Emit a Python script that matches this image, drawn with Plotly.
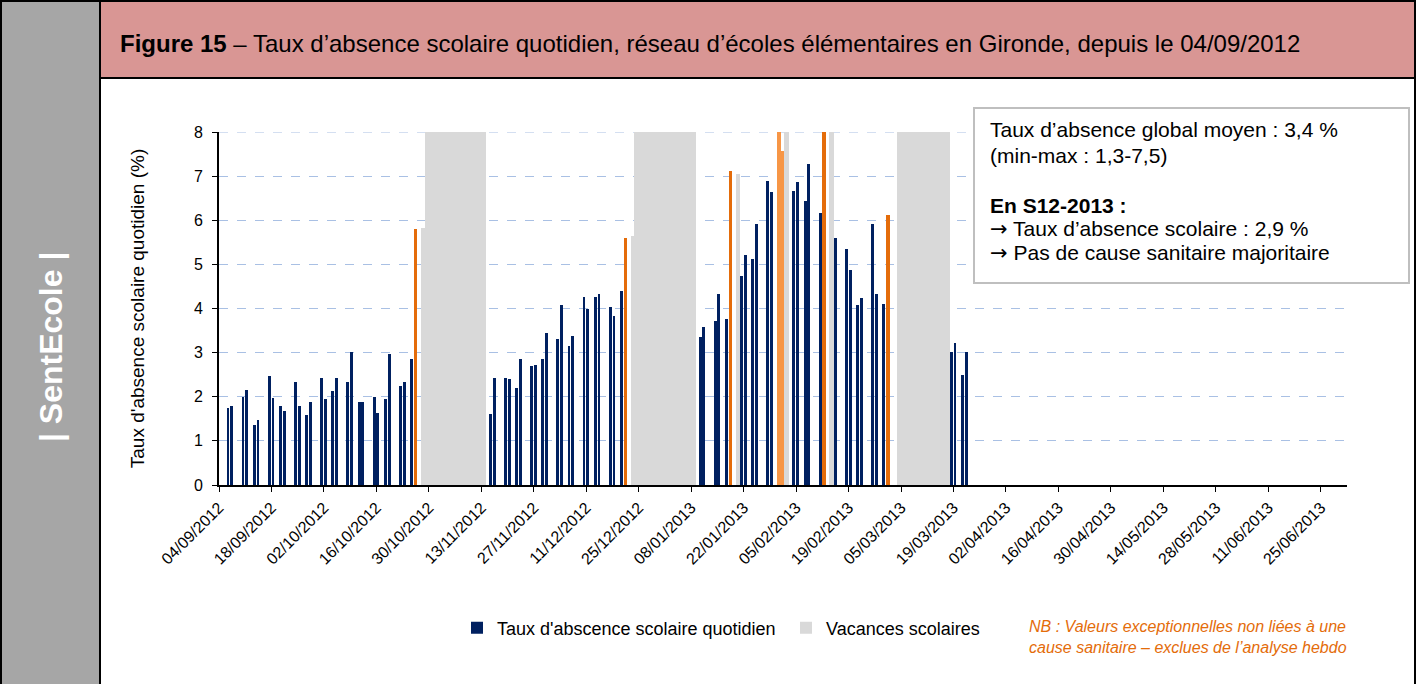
import plotly.graph_objects as go
import pandas as pd

# ---------------- data ----------------
school_dates = [
    "2012-09-06", "2012-09-07", "2012-09-10", "2012-09-11", "2012-09-13", "2012-09-14",
    "2012-09-17", "2012-09-18", "2012-09-20", "2012-09-21", "2012-09-24", "2012-09-25",
    "2012-09-27", "2012-09-28", "2012-10-01", "2012-10-02", "2012-10-04", "2012-10-05",
    "2012-10-08", "2012-10-09", "2012-10-11", "2012-10-12", "2012-10-15", "2012-10-16",
    "2012-10-18", "2012-10-19", "2012-10-22", "2012-10-23", "2012-10-25", "2012-10-26",
    "2012-11-15", "2012-11-16", "2012-11-19", "2012-11-20", "2012-11-22", "2012-11-23",
    "2012-11-26", "2012-11-27", "2012-11-29", "2012-11-30", "2012-12-03", "2012-12-04",
    "2012-12-06", "2012-12-07", "2012-12-10", "2012-12-11", "2012-12-13", "2012-12-14",
    "2012-12-17", "2012-12-18", "2012-12-20", "2012-12-21",
    "2013-01-10", "2013-01-11", "2013-01-14", "2013-01-15", "2013-01-17", "2013-01-18",
    "2013-01-21", "2013-01-22", "2013-01-24", "2013-01-25", "2013-01-28", "2013-01-29",
    "2013-01-31", "2013-02-01", "2013-02-04", "2013-02-05", "2013-02-07", "2013-02-08",
    "2013-02-11", "2013-02-12", "2013-02-15", "2013-02-18", "2013-02-19", "2013-02-21",
    "2013-02-22", "2013-02-25", "2013-02-26", "2013-02-28", "2013-03-01",
    "2013-03-18", "2013-03-19", "2013-03-21", "2013-03-22",
]
absence_rate = [
    1.74, 1.78, 2.00, 2.16, 1.35, 1.47,
    2.46, 1.97, 1.78, 1.67, 2.33, 1.78,
    1.58, 1.88, 2.43, 1.94, 2.14, 2.43,
    2.33, 3.02, 1.88, 1.88, 2.00, 1.64,
    1.94, 2.96, 2.24, 2.33, 2.85, 5.80,
    1.61, 2.43, 2.43, 2.40, 2.20, 2.86,
    2.69, 2.72, 2.86, 3.45, 3.31, 4.07,
    3.15, 3.37, 4.26, 3.98, 4.26, 4.33,
    4.03, 3.84, 4.39, 5.60,
    3.35, 3.58, 3.71, 4.33, 3.77, 7.12,
    4.73, 5.22, 5.12, 5.91, 6.89, 6.63,
    8.30, 7.58, 6.66, 6.86, 6.43, 7.28,
    6.17, 8.30, 5.60, 5.35, 4.88, 4.07,
    4.23, 5.91, 4.33, 4.11, 6.13,
    3.02, 3.22, 2.50, 3.02,
]
# n = normal, x = exceptional value (orange), l = exceptional value (light orange)
value_kind = [
    "n", "n", "n", "n", "n", "n",
    "n", "n", "n", "n", "n", "n",
    "n", "n", "n", "n", "n", "n",
    "n", "n", "n", "n", "n", "n",
    "n", "n", "n", "n", "n", "x",
    "n", "n", "n", "n", "n", "n",
    "n", "n", "n", "n", "n", "n",
    "n", "n", "n", "n", "n", "n",
    "n", "n", "n", "x",
    "n", "n", "n", "n", "n", "x",
    "n", "n", "n", "n", "n", "n",
    "l", "l", "n", "n", "n", "n",
    "n", "x", "n", "n", "n", "n",
    "n", "n", "n", "n", "x",
    "n", "n", "n", "n",
]

# school holidays (full height of the axis) and isolated grey columns
vacation_periods = [
    ("2012-10-29", "2012-11-13"),
    ("2012-12-24", "2013-01-08"),
    ("2013-03-04", "2013-03-17"),
]
vacation_height = 8
grey_single_dates = ["2012-10-28", "2012-12-23", "2013-01-20", "2013-02-02", "2013-02-14"]
grey_single_values = [5.82, 5.64, 7.05, 8.0, 8.0]

tick_dates = [
    "2012-09-04", "2012-09-18", "2012-10-02", "2012-10-16", "2012-10-30", "2012-11-13",
    "2012-11-27", "2012-12-11", "2012-12-25", "2013-01-08", "2013-01-22", "2013-02-05",
    "2013-02-19", "2013-03-05", "2013-03-19", "2013-04-02", "2013-04-16", "2013-04-30",
    "2013-05-14", "2013-05-28", "2013-06-11", "2013-06-25",
]
tick_labels = [pd.Timestamp(d).strftime("%d/%m/%Y") for d in tick_dates]

# ---------------- build ----------------
NAVY = "#002060"
ORANGE = "#E46C0A"
LIGHT_ORANGE = "#F79646"
GREY = "#D9D9D9"
GRID = "#A9C0E4"
FONT = "Liberation Sans, Arial, sans-serif"
DAY = 86400000

df = pd.DataFrame({"date": pd.to_datetime(school_dates), "rate": absence_rate, "kind": value_kind})
normal = df[df.kind == "n"]
excep = df[df.kind == "x"]
light = df[df.kind == "l"]

vac_dates, vac_vals = [], []
for s, e in vacation_periods:
    for d in pd.date_range(s, e, freq="D"):
        vac_dates.append(d)
        vac_vals.append(vacation_height)
for d, v in zip(grey_single_dates, grey_single_values):
    vac_dates.append(pd.Timestamp(d))
    vac_vals.append(v)

fig = go.Figure()
fig.add_trace(go.Bar(x=normal.date, y=normal.rate, marker_color=NAVY, marker_line_width=0,
                     width=0.78 * DAY, offset=0.01 * DAY,
                     name="Taux d'abscence scolaire quotidien", showlegend=True))
fig.add_trace(go.Bar(x=excep.date, y=excep.rate, marker_color=ORANGE, marker_line_width=0,
                     width=0.95 * DAY, offset=0.0 * DAY, showlegend=False, name="exceptionnel"))
fig.add_trace(go.Bar(x=light.date, y=light.rate, marker_color=LIGHT_ORANGE, marker_line_width=0,
                     width=0.95 * DAY, offset=0.0 * DAY, showlegend=False, name="exceptionnel"))
fig.add_trace(go.Bar(x=vac_dates, y=vac_vals, marker_color=GREY, marker_line_width=0,
                     width=1.3 * DAY, offset=-0.15 * DAY,
                     name="Vacances scolaires", showlegend=True))

W, H = 1418, 684
PX_L, PX_R, PX_T, PX_B = 219, 1347, 132, 485


def fx(px):
    return (px - PX_L) / (PX_R - PX_L)


def fy(py):
    return (PX_B - py) / (PX_B - PX_T)


shapes = [
    # grey side panel
    dict(type="rect", xref="paper", yref="paper", x0=fx(1), x1=fx(100), y0=fy(1), y1=fy(700),
         fillcolor="#A6A6A6", line=dict(color="black", width=2), layer="below"),
    # title band
    dict(type="rect", xref="paper", yref="paper", x0=fx(100), x1=fx(1415), y0=fy(1), y1=fy(78),
         fillcolor="#D99694", line=dict(color="black", width=2), layer="below"),
    # outer frame
    dict(type="rect", xref="paper", yref="paper", x0=fx(1), x1=fx(1415), y0=fy(1), y1=fy(700),
         fillcolor="rgba(0,0,0,0)", line=dict(color="black", width=2), layer="above"),
    # top dashed gridline (value 8)
    dict(type="line", xref="paper", yref="y", x0=0, x1=1, y0=8, y1=8,
         line=dict(color=GRID, width=1, dash="dash"), layer="below"),
    # text box
    dict(type="rect", xref="paper", yref="paper", x0=fx(974), x1=fx(1409), y0=fy(108), y1=fy(283),
         fillcolor="white", line=dict(color="#BFBFBF", width=2), layer="above"),
]

ARROW = '<span style="font-family:DejaVu Sans">→</span>'
annotations = [
    dict(text="<b>Figure 15</b> – Taux d’absence scolaire quotidien, réseau d’écoles élémentaires en Gironde, depuis le 04/09/2012",
         xref="paper", yref="paper", x=fx(118), y=fy(43), xanchor="left", yanchor="middle",
         showarrow=False, font=dict(family=FONT, size=24, color="black")),
    dict(text="<b>| SentEcole |</b>", xref="paper", yref="paper", x=fx(51), y=fy(347),
         xanchor="center", yanchor="middle", textangle=-90, showarrow=False,
         font=dict(family=FONT, size=32, color="white")),
    dict(text="<i>NB : Valeurs exceptionnelles non liées à une<br>cause sanitaire – exclues de l’analyse hebdo</i>",
         xref="paper", yref="paper", x=fx(1027), y=fy(637), xanchor="left", yanchor="middle",
         align="left", showarrow=False, font=dict(family=FONT, size=16, color=ORANGE)),
]
box_lines = [
    ("Taux d’absence global moyen : 3,4 %", 130),
    ("(min-max : 1,3-7,5)", 155),
    ("<b>En S12-2013 :</b>", 205),
    (ARROW + " Taux d’absence scolaire : 2,9 %", 229),
    (ARROW + " Pas de cause sanitaire majoritaire", 253),
]
for txt, py in box_lines:
    annotations.append(dict(text=txt, xref="paper", yref="paper", x=fx(988), y=fy(py),
                            xanchor="left", yanchor="middle", showarrow=False,
                            font=dict(family=FONT, size=21, color="black")))

fig.update_layout(
    width=W, height=H,
    margin=dict(l=PX_L, r=W - PX_R, t=PX_T, b=H - PX_B, pad=0),
    paper_bgcolor="white", plot_bgcolor="white",
    barmode="overlay", bargap=0,
    font=dict(family=FONT, color="black"),
    shapes=shapes, annotations=annotations,
    legend=dict(orientation="h", x=fx(457), y=fy(628), xanchor="left", yanchor="middle",
                font=dict(family=FONT, size=18, color="black"), bgcolor="rgba(0,0,0,0)",
                entrywidth=284, entrywidthmode="pixels", traceorder="normal"),
    xaxis=dict(type="date", range=["2012-09-04", "2013-07-02"],
               tickvals=tick_dates, ticktext=tick_labels, tickangle=-45,
               tickfont=dict(family=FONT, size=16, color="black"),
               ticks="outside", ticklen=5, tickcolor="black", tickwidth=1,
               showline=True, linecolor="black", linewidth=2, showgrid=False, zeroline=False),
    yaxis=dict(range=[0, 8], dtick=1, tick0=0,
               tickfont=dict(family=FONT, size=16, color="black"),
               ticks="outside", ticklen=5, tickcolor="black", tickwidth=1, ticklabelstandoff=6,
               showline=True, linecolor="black", linewidth=2,
               showgrid=True, gridcolor=GRID, griddash="dash", gridwidth=1, zeroline=False,
               title=dict(text="Taux d'absence scolaire quotidien (%)", standoff=44,
                          font=dict(family=FONT, size=19, color="black"))),
)

fig.write_html("out.html", config={"displayModeBar": False},
               post_script="document.body.style.margin='0px';document.body.style.overflow='hidden';")
